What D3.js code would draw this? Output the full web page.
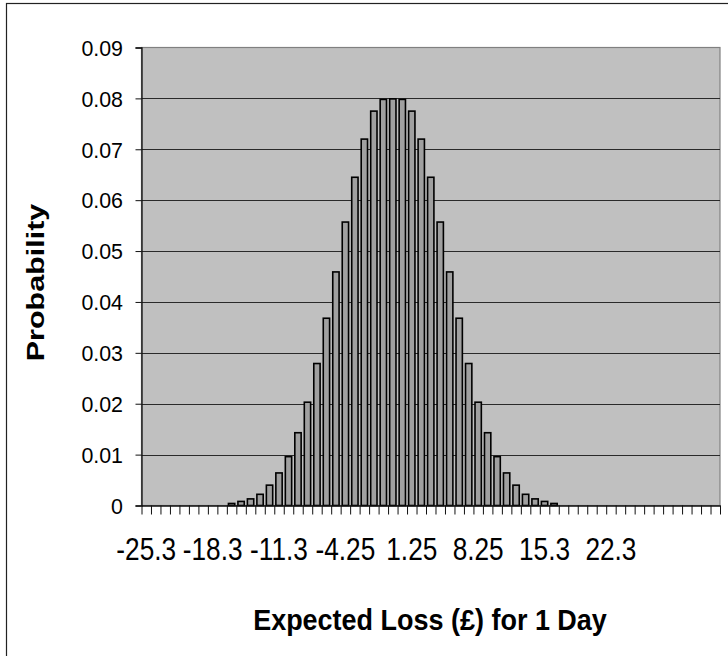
<!DOCTYPE html>
<html>
<head>
<meta charset="utf-8">
<script src="https://cdn.jsdelivr.net/npm/d3@7"></script>
<style>
  body { margin: 0; background: #fff; }
  svg { display: block; font-family: "Liberation Sans", Arial, sans-serif; }
</style>
</head>
<body>
<div id="chart"></div>
<script>

// probability per loss bucket (61 buckets)
const probabilities = [
    0, 0, 0, 0, 0, 0, 0, 0, 0,
    0.0004, 0.0008, 0.0013, 0.0022, 0.0040, 0.0064, 0.0096, 0.0143, 0.0203,
    0.0279, 0.0368, 0.0459, 0.0557, 0.0645, 0.0720, 0.0775, 0.0798,
    0.0799,
    0.0798, 0.0775, 0.0720, 0.0645, 0.0557, 0.0459, 0.0368, 0.0279,
    0.0203, 0.0143, 0.0096, 0.0064, 0.0040, 0.0022, 0.0013, 0.0008, 0.0004,
    0, 0, 0, 0, 0, 0, 0, 0, 0, 0, 0, 0, 0, 0, 0, 0, 0
];
const xTickLabels = ['-25.3', '-18.3', '-11.3', '-4.25', '1.25', '8.25', '15.3', '22.3'];
const xTickIndexes = [0, 7, 14, 21, 28, 35, 42, 49];
const yTickValues = [0, 0.01, 0.02, 0.03, 0.04, 0.05, 0.06, 0.07, 0.08, 0.09];
const xTitle = 'Expected Loss (£) for 1 Day';
const yTitle = 'Probability';


const renderChart = function(svg, width, height) {

    const plot = {left: 141.5, right: 720, top: 47.5, bottom: 505.5};

    // outer chart frame (runs off the right and bottom of the picture)
    svg.append('rect')
       .attr('x', 6.5)
       .attr('y', 3.5)
       .attr('width', width + 40)
       .attr('height', height + 40)
       .attr('fill', '#fff')
       .attr('stroke', '#222')
       .attr('stroke-width', 1.2);

    const xScale = d3.scaleBand()
                     .domain(d3.range(probabilities.length))
                     .range([plot.left, plot.right])
                     .paddingInner(1 / 3)
                     .paddingOuter(1 / 6);

    const yScale = d3.scaleLinear()
                     .domain([0, 0.09])
                     .range([plot.bottom, plot.top]);

    // plot area
    svg.append('rect')
       .attr('x', plot.left)
       .attr('y', plot.top)
       .attr('width', plot.right - plot.left)
       .attr('height', plot.bottom - plot.top)
       .attr('fill', '#c0c0c0')
       .attr('stroke', '#808080')
       .attr('stroke-width', 1.2);

    // gridlines
    svg.append('g')
       .selectAll('line')
       .data(yTickValues.filter(function(v) { return v > 0 && v < 0.09; }))
       .enter()
       .append('line')
       .attr('x1', plot.left)
       .attr('x2', plot.right)
       .attr('y1', function(d) { return Math.round(yScale(d)) + 0.5; })
       .attr('y2', function(d) { return Math.round(yScale(d)) + 0.5; })
       .attr('stroke', '#2a2a2a')
       .attr('stroke-width', 1);

    // bars
    svg.append('g')
       .selectAll('rect')
       .data(probabilities.map(function(p, i) { return {i: i, p: p}; })
                          .filter(function(d) { return d.p > 0; }))
       .enter()
       .append('rect')
       .attr('x', function(d) { return xScale(d.i); })
       .attr('y', function(d) { return yScale(d.p); })
       .attr('width', xScale.bandwidth())
       .attr('height', function(d) { return plot.bottom - yScale(d.p); })
       .attr('fill', '#a0a0a0')
       .attr('stroke', '#000')
       .attr('stroke-width', 1.6);

    // y axis
    const yAxis = d3.axisLeft(yScale)
                    .tickValues(yTickValues)
                    .tickSize(6)
                    .tickFormat('');
    const yAxisGroup = svg.append('g')
                          .attr('transform', `translate(${plot.left}, 0)`)
                          .call(yAxis);
    yAxisGroup.select('.domain').attr('stroke', '#111').attr('stroke-width', 1.3);
    yAxisGroup.selectAll('.tick line').attr('stroke', '#111');

    // x axis: ticks on bucket boundaries
    const edgeScale = d3.scaleLinear()
                        .domain([0, probabilities.length])
                        .range([plot.left, plot.right]);
    const xAxis = d3.axisBottom(edgeScale)
                    .tickValues(d3.range(probabilities.length + 1))
                    .tickSize(9)
                    .tickSizeOuter(0)
                    .tickFormat('');
    const xAxisGroup = svg.append('g')
                          .attr('transform', `translate(0, ${plot.bottom})`)
                          .call(xAxis);
    xAxisGroup.select('.domain').attr('stroke', '#111').attr('stroke-width', 1.3);
    xAxisGroup.selectAll('.tick line').attr('stroke', '#111');

    // y tick labels
    svg.append('g')
       .selectAll('text')
       .data(yTickValues)
       .enter()
       .append('text')
       .attr('transform', function(d) {
           return `translate(123, ${yScale(d) + 8.3}) scale(0.93, 1)`;
       })
       .attr('text-anchor', 'end')
       .attr('font-size', '23px')
       .attr('fill', '#000')
       .text(function(d) { return d === 0 ? '0' : d3.format('.2f')(d); });

    // x tick labels
    svg.append('g')
       .selectAll('text')
       .data(xTickLabels)
       .enter()
       .append('text')
       .attr('transform', function(d, i) {
           const cx = xScale(xTickIndexes[i]) + xScale.bandwidth() / 2;
           return `translate(${cx}, 560) scale(0.82, 1)`;
       })
       .attr('text-anchor', 'middle')
       .attr('font-size', '32px')
       .attr('fill', '#000')
       .text(function(d) { return d; });

    // axis titles
    svg.append('text')
       .attr('transform', 'translate(430, 630) scale(0.93, 1)')
       .attr('text-anchor', 'middle')
       .attr('font-size', '29px')
       .attr('font-weight', 'bold')
       .attr('fill', '#000')
       .text(xTitle);

    svg.append('text')
       .attr('transform', 'translate(44, 282.5) rotate(-90) scale(1.27, 1)')
       .attr('text-anchor', 'middle')
       .attr('font-size', '24px')
       .attr('font-weight', 'bold')
       .attr('fill', '#000')
       .text(yTitle);
};


const svgWidth = 728;
const svgHeight = 656;

const svg = d3.select('#chart')
              .append('svg')
              .attr('width', svgWidth)
              .attr('height', svgHeight);

renderChart(svg, svgWidth, svgHeight);

</script>
</body>
</html>
